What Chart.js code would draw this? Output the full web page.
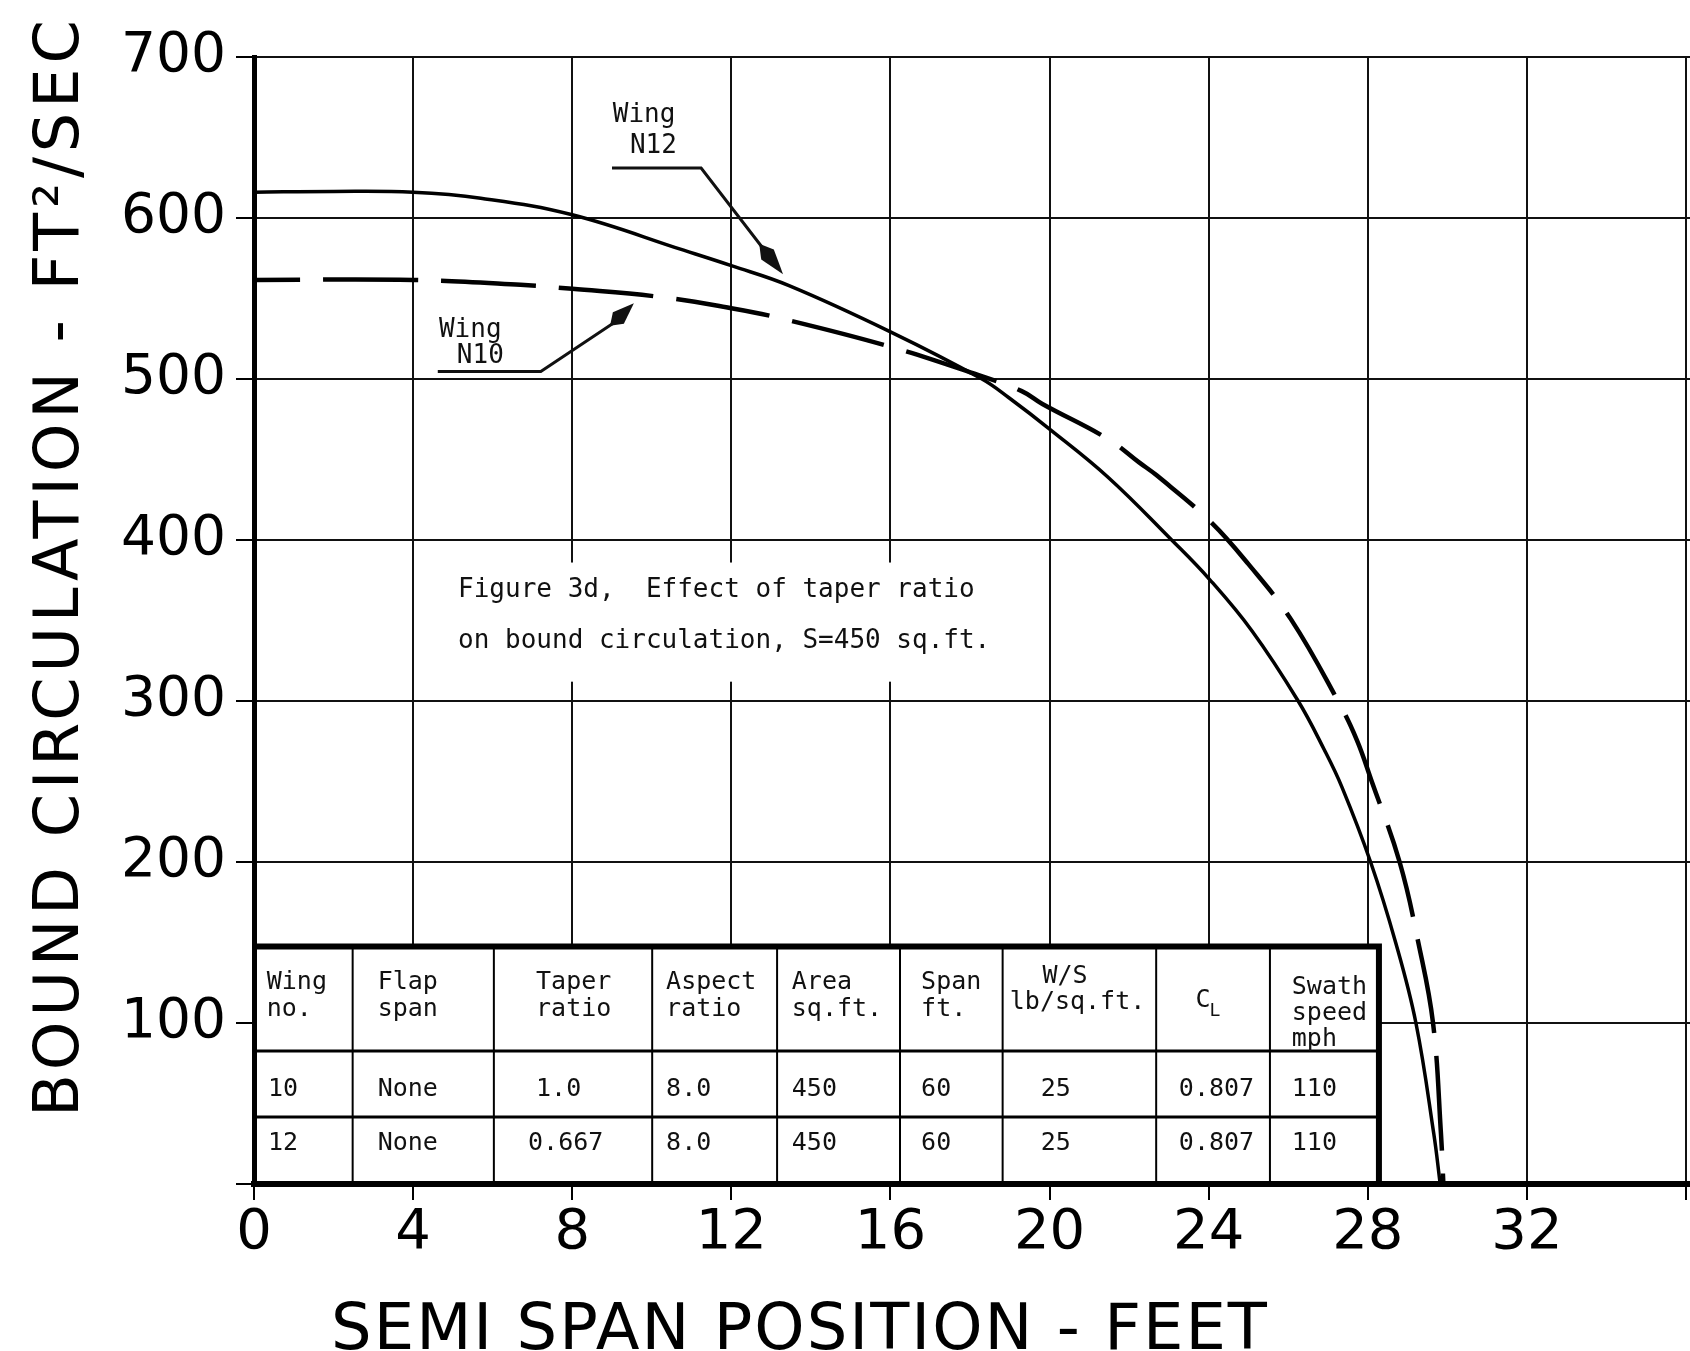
<!DOCTYPE html>
<html>
<head>
<meta charset="utf-8">
<script src="https://cdn.jsdelivr.net/npm/chart.js@4.4.1/dist/chart.umd.min.js"></script>
<style>
html,body{margin:0;padding:0;background:#fff;}
canvas{display:block;}
</style>
</head>
<body>
<canvas id="c" width="1690" height="1351"></canvas>
<script>
// ---------- data ----------
const xTickValues = [0, 4, 8, 12, 16, 20, 24, 28, 32, 36];
const yTickValues = [0, 100, 200, 300, 400, 500, 600, 700];

// Wing N12 (solid), semi span position (ft) vs bound circulation (ft^2/sec)
const spanN12 = [0, 2, 4, 5.7, 8, 10.8, 12, 13.45, 16, 18.3, 18.97, 20, 21.47, 23.07, 24.02, 25.09, 26.25, 26.9, 27.35, 28.07, 28.7, 29.21, 29.66, 29.82];
const circN12 = [616, 616.5, 616, 612.3, 602, 580, 570.4, 558, 529.3, 500, 488.5, 468.9, 439, 400, 375.6, 343.5, 300, 270, 246.5, 200, 150, 100, 31, 0];

// Wing N10 (dashed)
const spanN10 = [0, 4, 6.7, 8, 10.2, 12, 13.1, 16, 18.2, 19.3, 19.82, 21.47, 22.25, 22.7, 24.02, 25.0, 26.07, 27.25, 27.72, 28.1, 28.8, 29.27, 29.64, 29.84, 29.9];
const circN10 = [561.5, 561.5, 558.5, 556, 551, 544, 538.5, 520, 502.5, 492.5, 484.5, 462.7, 448.2, 440, 412, 385, 350.7, 300, 276, 250, 200, 150, 100, 31, 0];

const xTitle = "SEMI SPAN POSITION - FEET";
const yTitle = "BOUND CIRCULATION - FT\u00B2/SEC";
const captionLines = ["Figure 3d,  Effect of taper ratio", "on bound circulation, S=450 sq.ft."];
const labelN12 = ["Wing", "N12"];
const labelN10 = ["Wing", "N10"];

const tableHeader = [["Wing", "no."], ["Flap", "span"], ["Taper", "ratio"], ["Aspect", "ratio"], ["Area", "sq.ft."], ["Span", "ft."], ["W/S", "lb/sq.ft."], ["C", "L"], ["Swath", "speed", "mph"]];
const tableRows = [
  ["10", "None", "1.0", "8.0", "450", "60", "25", "0.807", "110"],
  ["12", "None", "0.667", "8.0", "450", "60", "25", "0.807", "110"]
];

// ---------- layout (in data units of the axes) ----------
const tableCols = [0, 2.48, 6.03, 10.01, 13.15, 16.24, 18.82, 22.68, 25.54, 28.28];
const tableRowsY = [147.5, 82.6, 41.6, 0];
const MONO = '"DejaVu Sans Mono", "Liberation Mono", monospace';
const SANS = '"DejaVu Sans", "Liberation Sans", sans-serif';

const sx = (c, v) => c.scales.x.getPixelForValue(v);
const sy = (c, v) => c.scales.y.getPixelForValue(v);

function arrowHead(ctx, x0, y0, x1, y1, w) {
  const dx = x1 - x0, dy = y1 - y0;
  const L = Math.hypot(dx, dy);
  const ux = dx / L, uy = dy / L;
  const nx = -uy, ny = ux;
  const mx = x0 + dx * 0.35, my = y0 + dy * 0.35;
  ctx.beginPath();
  ctx.moveTo(x0, y0);
  ctx.lineTo(mx + nx * w, my + ny * w);
  ctx.lineTo(x1, y1);
  ctx.lineTo(mx - nx * w, my - ny * w);
  ctx.closePath();
  ctx.fill();
}

const decor = {
  id: 'decor',
  beforeDatasetsDraw(chart) {
    const ctx = chart.ctx;
    ctx.save();
    // caption box (white background interrupting grid)
    const cx0 = sx(chart, 4.75), cx1 = sx(chart, 19.45);
    const cy0 = sy(chart, 386), cy1 = sy(chart, 312);
    ctx.fillStyle = '#fff';
    ctx.fillRect(cx0, cy0, cx1 - cx0, cy1 - cy0);
    ctx.fillStyle = '#111';
    ctx.font = '26px ' + MONO;
    ctx.textBaseline = 'middle';
    ctx.textAlign = 'left';
    ctx.fillText(captionLines[0], sx(chart, 5.13), sy(chart, 369));
    ctx.fillText(captionLines[1], sx(chart, 5.13), sy(chart, 337));

    // table
    const L = sx(chart, tableCols[0]), R = sx(chart, tableCols[tableCols.length - 1]);
    const T = sy(chart, tableRowsY[0]), B = sy(chart, 0);
    ctx.fillStyle = '#fff';
    ctx.fillRect(L + 3, T, R - L - 3, B - T - 3);
    ctx.strokeStyle = '#000';
    ctx.lineWidth = 2;
    for (let i = 1; i < tableCols.length - 1; i++) {
      const x = sx(chart, tableCols[i]);
      ctx.beginPath(); ctx.moveTo(x, T); ctx.lineTo(x, B); ctx.stroke();
    }
    ctx.lineWidth = 3;
    for (let j = 1; j < tableRowsY.length - 1; j++) {
      const y = sy(chart, tableRowsY[j]);
      ctx.beginPath(); ctx.moveTo(L, y); ctx.lineTo(R, y); ctx.stroke();
    }
    ctx.lineWidth = 6;
    ctx.beginPath(); ctx.moveTo(L, T); ctx.lineTo(R, T); ctx.lineTo(R, B); ctx.stroke();

    // header text
    ctx.fillStyle = '#111';
    ctx.font = '25px ' + MONO;
    ctx.textBaseline = 'middle';
    const hx = [0.32, 3.11, 7.09, 10.36, 13.52, 16.77, 19.0, 23.67, 26.09];
    for (let i = 0; i < tableHeader.length; i++) {
      const lines = tableHeader[i];
      if (i === 6) {
        ctx.fillText(lines[0], sx(chart, 19.82), sy(chart, 129));
        ctx.fillText(lines[1], sx(chart, hx[i]), sy(chart, 112.5));
      } else if (i === 7) {
        ctx.fillText(lines[0], sx(chart, hx[i]), sy(chart, 114));
        const cw = ctx.measureText(lines[0]).width;
        ctx.font = '18px ' + MONO;
        ctx.fillText(lines[1], sx(chart, hx[i]) + cw - 1, sy(chart, 107));
        ctx.font = '25px ' + MONO;
      } else if (i === 8) {
        ctx.fillText(lines[0], sx(chart, hx[i]), sy(chart, 122));
        ctx.fillText(lines[1], sx(chart, hx[i]), sy(chart, 106));
        ctx.fillText(lines[2], sx(chart, hx[i]), sy(chart, 90));
      } else {
        ctx.fillText(lines[0], sx(chart, hx[i]), sy(chart, 125));
        ctx.fillText(lines[1], sx(chart, hx[i]), sy(chart, 108.5));
      }
    }
    // data rows
    const rx = [0.35, 3.11, 7.09, 10.36, 13.52, 16.77, 19.78, 23.25, 26.09];
    const ry = [58.4, 25];
    tableRows.forEach((row, r) => {
      row.forEach((txt, i) => {
        let x = rx[i];
        if (i === 2 && txt.length > 3) x = 6.89;
        ctx.fillText(txt, sx(chart, x), sy(chart, ry[r]));
      });
    });
    ctx.restore();
  },
  afterDatasetsDraw(chart) {
    const ctx = chart.ctx;
    ctx.save();
    ctx.fillStyle = '#111';
    ctx.strokeStyle = '#111';
    ctx.font = '26px ' + MONO;
    ctx.textBaseline = 'middle';
    ctx.textAlign = 'left';
    // Wing N12 label + leader
    ctx.fillText(labelN12[0], sx(chart, 9.02), sy(chart, 664));
    ctx.fillText(labelN12[1], sx(chart, 9.45), sy(chart, 644.5));
    ctx.lineWidth = 3;
    ctx.beginPath();
    ctx.moveTo(sx(chart, 9.0), sy(chart, 631));
    ctx.lineTo(sx(chart, 11.24), sy(chart, 631));
    ctx.lineTo(sx(chart, 12.77), sy(chart, 582));
    ctx.stroke();
    arrowHead(ctx, sx(chart, 12.7), sy(chart, 584), sx(chart, 13.3), sy(chart, 565), 8);
    // Wing N10 label + leader
    ctx.fillText(labelN10[0], sx(chart, 4.65), sy(chart, 530));
    ctx.fillText(labelN10[1], sx(chart, 5.1), sy(chart, 514));
    ctx.beginPath();
    ctx.moveTo(sx(chart, 4.62), sy(chart, 504.7));
    ctx.lineTo(sx(chart, 7.21), sy(chart, 504.7));
    ctx.lineTo(sx(chart, 9.03), sy(chart, 534.6));
    ctx.stroke();
    arrowHead(ctx, sx(chart, 8.95), sy(chart, 533), sx(chart, 9.55), sy(chart, 547), 8);
    ctx.restore();
  },
  afterDraw(chart) {
    const ctx = chart.ctx;
    ctx.save();
    ctx.fillStyle = '#000';
    // x axis title
    ctx.font = '64px ' + SANS;
    ctx.letterSpacing = '2px';
    ctx.textAlign = 'center';
    ctx.textBaseline = 'alphabetic';
    ctx.fillText(xTitle, 800, 1349);
    // y axis title
    ctx.translate(78, 566);
    ctx.rotate(-Math.PI / 2);
    ctx.font = '62px ' + SANS;
    ctx.letterSpacing = '5px';
    ctx.textAlign = 'center';
    ctx.textBaseline = 'alphabetic';
    ctx.fillText(yTitle, 0, 0);
    ctx.restore();
  }
};

new Chart(document.getElementById('c'), {
  type: 'line',
  data: {
    datasets: [
      {
        label: 'Wing N12',
        data: spanN12.map((x, i) => ({x, y: circN12[i]})),
        borderColor: '#000',
        borderWidth: 3.5,
        pointRadius: 0,
        tension: 0.4,
        fill: false
      },
      {
        label: 'Wing N10',
        data: spanN10.map((x, i) => ({x, y: circN10[i]})),
        borderColor: '#000',
        borderWidth: 4.5,
        borderDash: [95, 23],
        borderDashOffset: 49,
        pointRadius: 0,
        tension: 0.4,
        fill: false
      }
    ]
  },
  options: {
    responsive: false,
    animation: false,
    devicePixelRatio: 1,
    layout: { padding: { top: 57, left: 0, right: 0, bottom: 0 } },
    plugins: {
      legend: { display: false },
      tooltip: { enabled: false },
      title: { display: false }
    },
    scales: {
      x: {
        type: 'linear',
        min: 0,
        max: 36.1,
        afterFit: s => { s.height = 167; },
        afterBuildTicks: s => { s.ticks = xTickValues.map(v => ({value: v})); },
        ticks: {
          includeBounds: false,
          color: '#000',
          padding: 0,
          maxRotation: 0,
          autoSkip: false,
          font: { family: SANS, size: 56 },
          callback: v => (v === 36 ? '' : String(v))
        },
        grid: { color: '#111', lineWidth: 2, tickLength: 16, drawTicks: true, tickColor: '#000', tickWidth: 2 },
        border: { display: true, color: '#000', width: 6 }
      },
      y: {
        min: 0,
        max: 700,
        afterFit: s => { s.width = 254; },
        afterBuildTicks: s => { s.ticks = yTickValues.map(v => ({value: v})); },
        ticks: {
          color: '#000',
          padding: 10,
          autoSkip: false,
          font: { family: SANS, size: 55 },
          callback: v => (v === 0 ? '' : String(v))
        },
        grid: { color: '#111', lineWidth: 2, tickLength: 18, drawTicks: true, tickColor: '#000', tickWidth: 2 },
        border: { display: true, color: '#000', width: 5 }
      }
    }
  },
  plugins: [decor]
});
</script>
</body>
</html>
